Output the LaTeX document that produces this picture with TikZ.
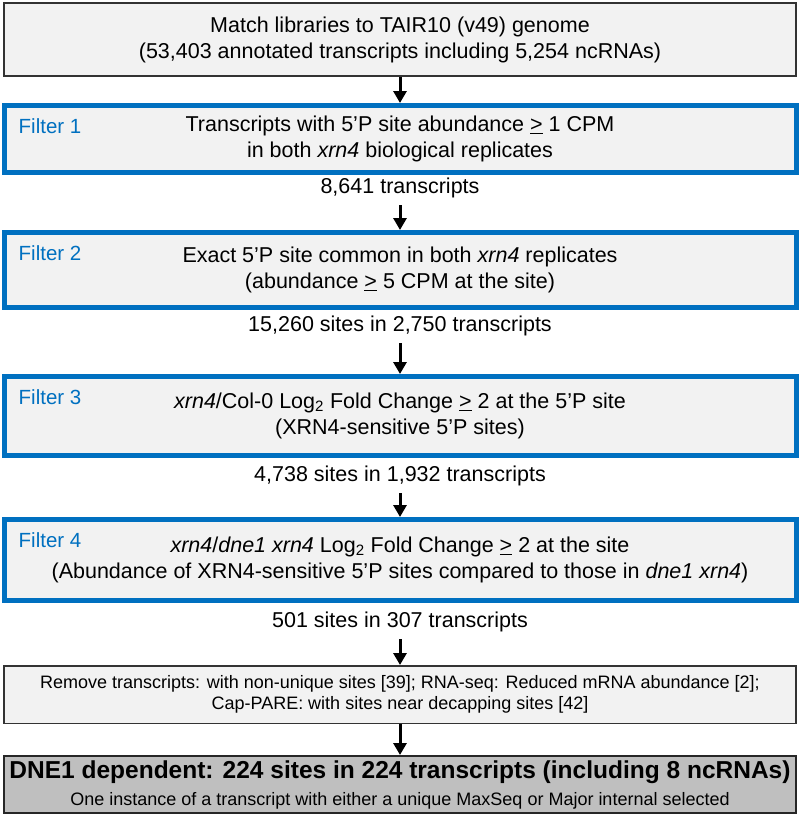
\documentclass[tikz,border=0pt]{standalone}
\usepackage{fontspec}
\setmainfont{Liberation Sans}
\usetikzlibrary{positioning,arrows.meta}
\definecolor{filterblue}{HTML}{0070C0}
\definecolor{boxgray}{HTML}{F2F2F2}
\definecolor{resultgray}{HTML}{BFBFBF}
\newcommand{\ulgt}{\underline{>}}
\begin{document}
\begin{tikzpicture}[x=1pt,y=-1pt,
	font=\fontsize{21.5}{26}\selectfont,
	greybox/.style={draw=black!80, line width=1.5pt, fill=boxgray, inner sep=0pt, align=center, minimum width=792pt},
	filterbox/.style={draw=filterblue, line width=5pt, fill=boxgray, inner sep=0pt, align=center, minimum width=792pt},
	flabel/.style={text=filterblue, inner sep=0pt, font=\fontsize{20.5}{24}\selectfont},
	count/.style={inner sep=7pt},
	flow/.style={-{Triangle[width=13pt,length=12pt]}, line width=3pt}]
	\useasboundingbox (0,0) rectangle (800,817);
	
	% start
	\node[greybox, minimum height=73pt] (libs) at (400,39.5) {Match libraries to TAIR10 (v49) genome\\(53,403 annotated transcripts including 5,254 ncRNAs)};
	
	% filters
	\node[filterbox, minimum height=67pt] (f1) at (400,139) {Transcripts with 5'P site abundance \ulgt{} 1 CPM\\in both \textit{xrn4} biological replicates};
	\node[flabel, below right=15pt and 17pt of f1.north west] (l1) {Filter 1};
	\node[count] (c1) at (400,188) {8,641 transcripts};
	
	\node[filterbox, minimum height=75pt] (f2) at (400,270) {Exact 5'P site common in both \textit{xrn4} replicates\\(abundance \ulgt{} 5 CPM at the site)};
	\node[flabel, below right=15pt and 17pt of f2.north west] (l2) {Filter 2};
	\node[count] (c2) at (400,326) {15,260 sites in 2,750 transcripts};
	
	\node[filterbox, minimum height=79pt] (f3) at (400,416) {\textit{xrn4}/Col-0 Log\textsubscript{2} Fold Change \ulgt{} 2 at the 5'P site\\(XRN4-sensitive 5'P sites)};
	\node[flabel, below right=15pt and 17pt of f3.north west] (l3) {Filter 3};
	\node[count] (c3) at (400,476) {4,738 sites in 1,932 transcripts};
	
	\node[filterbox, minimum height=81pt] (f4) at (400,560) {\textit{xrn4}/\textit{dne1 xrn4} Log\textsubscript{2} Fold Change \ulgt{} 2 at the site\\(Abundance of XRN4-sensitive 5'P sites compared to those in \textit{dne1 xrn4})};
	\node[flabel, below right=15pt and 17pt of f4.north west] (l4) {Filter 4};
	\node[count] (c4) at (400,622) {501 sites in 307 transcripts};
	
	% removal and result
	\node[greybox, minimum height=57.5pt, font=\fontsize{18}{21}\selectfont] (rm) at (400,694.5) {Remove transcripts: with non-unique sites [39]; RNA-seq: Reduced mRNA abundance [2];\\Cap-PARE: with sites near decapping sites [42]};
	\node[greybox, fill=resultgray, draw=black!85, line width=2pt, minimum width=792pt, minimum height=57pt, font=\fontsize{18}{27}\selectfont] (dne) at (400,784.5) {{\fontsize{24.5}{28}\selectfont\bfseries DNE1 dependent: 224 sites in 224 transcripts (including 8 ncRNAs)}\\One instance of a transcript with either a unique MaxSeq or Major internal selected};
	
	\draw[flow] (libs) -- (f1);
	\draw[flow] (c1) -- (f2);
	\draw[flow] (c2) -- (f3);
	\draw[flow] (c3) -- (f4);
	\draw[flow] (c4) -- (rm);
	\draw[flow] (rm) -- (dne);
\end{tikzpicture}
\end{document}
